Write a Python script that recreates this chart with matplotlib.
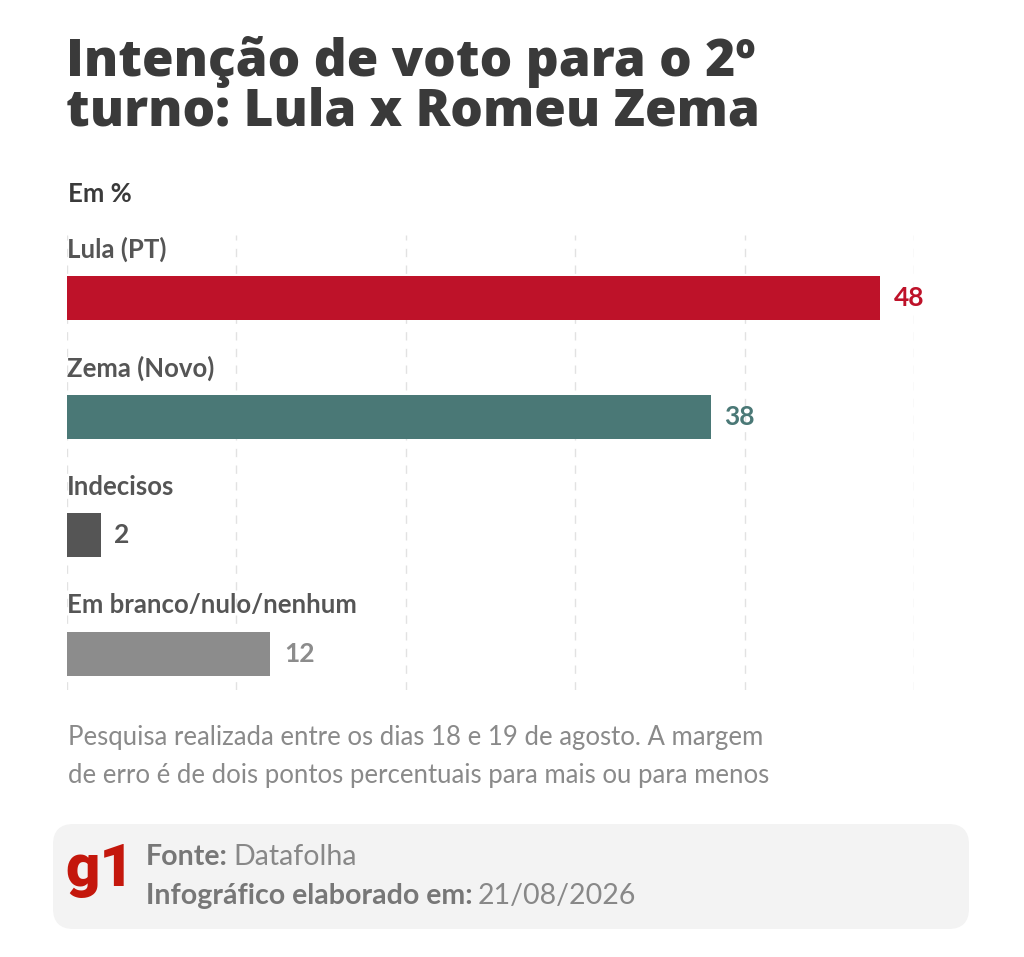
import matplotlib
matplotlib.use("Agg")
import matplotlib.pyplot as plt
from matplotlib.patches import FancyBboxPatch

# dados
categorias = ["Lula (PT)", "Zema (Novo)", "Indecisos", "Em branco/nulo/nenhum"]
valores = [48, 38, 2, 12]
cores = ["#be1229", "#4a7876", "#555555", "#8c8c8c"]
cores_rotulo = ["#be1229", "#4a7876", "#555555", "#8c8c8c"]
grade = [0, 10, 20, 30, 40, 50]

W, H = 1024, 957
plt.rcParams['font.family'] = ['Lato', 'DejaVu Sans']

fig = plt.figure(figsize=(W / 100, H / 100), dpi=100)
fig.patch.set_facecolor("white")


def px(x, y):
    # pixel (topo-esquerda) -> coords da figura
    return x / W, 1 - y / H


# titulo
fig.text(*px(66, 76), "Intenção de voto para o 2º", fontsize=37, fontweight="heavy",
         color="#3a3a3a", va="baseline", family=["Open Sans", "DejaVu Sans"])
fig.text(*px(66, 126), "turno: Lula x Romeu Zema", fontsize=37, fontweight="heavy",
         color="#3a3a3a", va="baseline", family=["Open Sans", "DejaVu Sans"])
fig.text(*px(68, 194), "Em %", fontsize=18.5, fontweight="bold", color="#3a3a3a", va="center")

# eixo do grafico
top, bottom = 235, 690
ax = fig.add_axes([67 / W, 1 - bottom / H, (914 - 67) / W, (bottom - top) / H])
y0 = -(298 - top) / 118.67
y1 = 3 + (bottom - 654) / 118.67
ax.set_xlim(0, 50)
ax.set_ylim(y1, y0)
for g in grade:
    ax.axvline(g, color="#e2e2e2", lw=1, ls=(0, (6, 6)), zorder=0)

pos = list(range(len(categorias)))
ax.barh(pos, valores, height=44 / 118.67, color=cores, zorder=2)
for i, (c, v) in enumerate(zip(categorias, valores)):
    ax.text(0, i - 0.41, c, fontsize=18.5, fontweight="bold", color="#555555",
            va="center", ha="left")
    ax.text(v + 0.8, i, str(v), fontsize=19, fontweight="bold", color=cores_rotulo[i],
            va="center", ha="left", clip_on=False)
ax.axis("off")

# nota
fig.text(*px(68, 737), "Pesquisa realizada entre os dias 18 e 19 de agosto. A margem",
         fontsize=18.5, color="#8a8a8a", va="center")
fig.text(*px(68, 776), "de erro é de dois pontos percentuais para mais ou para menos",
         fontsize=18.5, color="#8a8a8a", va="center")

# rodape
caixa = FancyBboxPatch((53 / W, 1 - 929 / H), (969 - 53) / W, (929 - 824) / H,
                       boxstyle="round,pad=0,rounding_size=0.02",
                       transform=fig.transFigure, facecolor="#f3f3f3",
                       edgecolor="none", mutation_aspect=W / H)
fig.patches.append(caixa)
fig.text(*px(65, 870), "g1", fontsize=43, fontweight="heavy", color="#c4170c", va="center",
         family=["Roboto", "DejaVu Sans"])

fig.canvas.draw()
r = fig.canvas.get_renderer()
t1 = fig.text(*px(146, 857), "Fonte:", fontsize=20.5, fontweight="bold", color="#777777", va="center")
bb = t1.get_window_extent(r)
fig.text(bb.x1 / W + 5 / W, 1 - 857 / H, "Datafolha", fontsize=20.5, color="#888888", va="center")
t2 = fig.text(*px(146, 896), "Infográfico elaborado em:", fontsize=20.5, fontweight="bold",
              color="#777777", va="center")
bb = t2.get_window_extent(r)
fig.text(bb.x1 / W + 5 / W, 1 - 896 / H, "21/08/2026", fontsize=20.5, color="#888888", va="center")

fig.savefig("out.png", dpi=100)
